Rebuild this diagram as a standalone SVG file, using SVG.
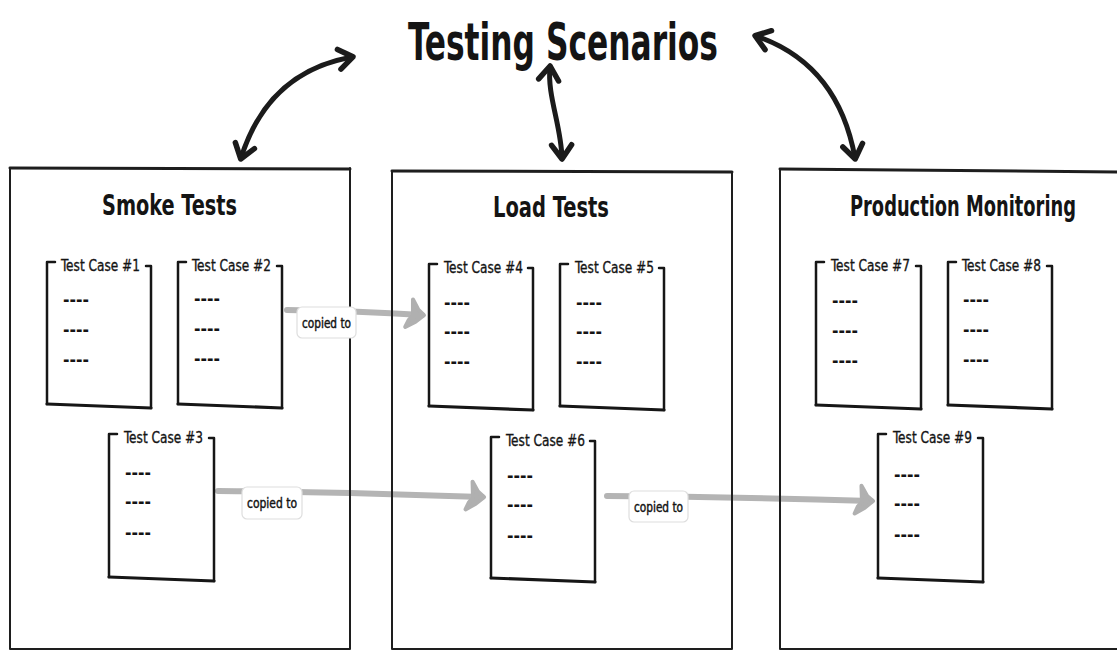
<svg xmlns="http://www.w3.org/2000/svg" width="1117" height="651" viewBox="0 0 1117 651">
  <style>
    .hand { font-family: "DejaVu Sans Condensed", "DejaVu Sans", sans-serif; fill: #141414; }
    .title { font-size: 52px; font-weight: bold; }
    .ptitle { font-size: 29px; font-weight: bold; }
    .tc { font-size: 16.5px; stroke: #141414; stroke-width: 0.35; }
    .dash { font-size: 17px; font-weight: bold; }
    .lbl { font-size: 14.5px; stroke: #141414; stroke-width: 0.45; }
    .frame { fill: none; stroke: #1e1e1e; stroke-width: 2; stroke-linecap: round; stroke-linejoin: round; }
    .frame-top { fill: none; stroke: #1e1e1e; stroke-width: 3; stroke-linecap: round; }
    .box { fill: none; stroke: #161616; stroke-width: 2.5; stroke-linecap: round; stroke-linejoin: round; }
    .box-base { fill: none; stroke: #161616; stroke-width: 3.2; stroke-linecap: round; }
    .link { fill: none; stroke: #1b1b1b; stroke-width: 5; stroke-linecap: round; }
    .copy { fill: none; stroke: #b4b4b4; stroke-width: 6; stroke-linecap: round; }
    .tag { fill: #ffffff; stroke: #dedede; stroke-width: 1.2; }
  </style>
  <defs>
    <marker id="head-black" viewBox="-20 -16 30 32" refX="0" refY="0" markerWidth="30" markerHeight="32" markerUnits="userSpaceOnUse" orient="auto-start-reverse">
      <path d="M -13 -10 L 1 0 L -13 10" fill="none" stroke="#1b1b1b" stroke-width="5.5" stroke-linecap="round" stroke-linejoin="round"/>
    </marker>
    <marker id="head-grey" viewBox="-24 -22 34 44" refX="0" refY="0" markerWidth="34" markerHeight="44" markerUnits="userSpaceOnUse" orient="auto">
      <path d="M -10 -15 L -4 -5 L 2 0 L -6 7 L -16 13 L -13 6 L -9 1 Z" fill="#b0b0b0" stroke="#b0b0b0" stroke-width="4" stroke-linejoin="round"/>
    </marker>
  </defs>

  <rect width="1117" height="651" fill="#ffffff"/>

  <!-- heading -->
  <g id="heading">
    <text class="hand title" x="408" y="60" textLength="310" lengthAdjust="spacingAndGlyphs">Testing Scenarios</text>
  </g>

  <!-- connectors: heading links and copy paths (drawn beneath the frames) -->
  <g id="connectors">
    <path class="link" d="M 352 57 Q 268 72 241 158" marker-start="url(#head-black)" marker-end="url(#head-black)"/>
    <path class="link" d="M 550 67 C 547 95 561 125 562 158" marker-start="url(#head-black)" marker-end="url(#head-black)"/>
    <path class="link" d="M 756 36 Q 838 64 855 158" marker-start="url(#head-black)" marker-end="url(#head-black)"/>
    <path class="copy" d="M 287 310 Q 360 311 422 315" marker-end="url(#head-grey)"/>
    <path class="copy" d="M 218 491 Q 350 492 482 497" marker-end="url(#head-grey)"/>
    <path class="copy" d="M 607 496 Q 740 497 871 501" marker-end="url(#head-grey)"/>
  </g>

  <!-- Smoke Tests -->
  <g id="smoke-tests">
    <path class="frame" d="M 10 168 L 10 649 L 350 649 L 350 168"/>
    <path class="frame-top" d="M 10 168 L 350 169"/>
    <text class="hand ptitle" x="102" y="215" textLength="135" lengthAdjust="spacingAndGlyphs">Smoke Tests</text>

    <g id="test-case-1">
      <path class="box" d="M 55 262 L 47 262 L 47 404"/>
      <path class="box" d="M 146 266 L 151 266 L 151 408"/>
      <path class="box-base" d="M 47 404 L 151 408"/>
      <text class="hand tc" x="61" y="271" textLength="79" lengthAdjust="spacingAndGlyphs">Test Case #1</text>
      <text class="hand dash" x="63" y="306" textLength="26" lengthAdjust="spacingAndGlyphs">----</text>
      <text class="hand dash" x="63" y="336" textLength="26" lengthAdjust="spacingAndGlyphs">----</text>
      <text class="hand dash" x="63" y="366" textLength="26" lengthAdjust="spacingAndGlyphs">----</text>
    </g>

    <g id="test-case-2">
      <path class="box" d="M 186 262 L 178 262 L 178 404"/>
      <path class="box" d="M 277 266 L 282 266 L 282 408"/>
      <path class="box-base" d="M 178 404 L 282 408"/>
      <text class="hand tc" x="192" y="271" textLength="79" lengthAdjust="spacingAndGlyphs">Test Case #2</text>
      <text class="hand dash" x="194" y="305" textLength="26" lengthAdjust="spacingAndGlyphs">----</text>
      <text class="hand dash" x="194" y="335" textLength="26" lengthAdjust="spacingAndGlyphs">----</text>
      <text class="hand dash" x="194" y="365" textLength="26" lengthAdjust="spacingAndGlyphs">----</text>
    </g>

    <g id="test-case-3">
      <path class="box" d="M 117 434 L 109 434 L 109 577"/>
      <path class="box" d="M 209 438 L 214 438 L 214 581"/>
      <path class="box-base" d="M 109 577 L 214 581"/>
      <text class="hand tc" x="124" y="443" textLength="79" lengthAdjust="spacingAndGlyphs">Test Case #3</text>
      <text class="hand dash" x="125" y="479" textLength="26" lengthAdjust="spacingAndGlyphs">----</text>
      <text class="hand dash" x="125" y="508" textLength="26" lengthAdjust="spacingAndGlyphs">----</text>
      <text class="hand dash" x="125" y="539" textLength="26" lengthAdjust="spacingAndGlyphs">----</text>
    </g>
  </g>

  <!-- Load Tests -->
  <g id="load-tests">
    <path class="frame" d="M 392 171 L 392 649 L 732 649 L 732 172"/>
    <path class="frame-top" d="M 392 171 L 732 172"/>
    <text class="hand ptitle" x="493" y="217" textLength="116" lengthAdjust="spacingAndGlyphs">Load Tests</text>

    <g id="test-case-4">
      <path class="box" d="M 437 264 L 429 264 L 429 406"/>
      <path class="box" d="M 528 268 L 533 268 L 533 410"/>
      <path class="box-base" d="M 429 406 L 533 410"/>
      <text class="hand tc" x="444" y="273" textLength="79" lengthAdjust="spacingAndGlyphs">Test Case #4</text>
      <text class="hand dash" x="444" y="309" textLength="26" lengthAdjust="spacingAndGlyphs">----</text>
      <text class="hand dash" x="444" y="338" textLength="26" lengthAdjust="spacingAndGlyphs">----</text>
      <text class="hand dash" x="444" y="368" textLength="26" lengthAdjust="spacingAndGlyphs">----</text>
    </g>

    <g id="test-case-5">
      <path class="box" d="M 568 264 L 560 264 L 560 406"/>
      <path class="box" d="M 659 268 L 664 268 L 664 410"/>
      <path class="box-base" d="M 560 406 L 664 410"/>
      <text class="hand tc" x="575" y="273" textLength="79" lengthAdjust="spacingAndGlyphs">Test Case #5</text>
      <text class="hand dash" x="576" y="309" textLength="26" lengthAdjust="spacingAndGlyphs">----</text>
      <text class="hand dash" x="576" y="338" textLength="26" lengthAdjust="spacingAndGlyphs">----</text>
      <text class="hand dash" x="576" y="368" textLength="26" lengthAdjust="spacingAndGlyphs">----</text>
    </g>

    <g id="test-case-6">
      <path class="box" d="M 499 437 L 491 437 L 491 578"/>
      <path class="box" d="M 590 441 L 595 441 L 595 582"/>
      <path class="box-base" d="M 491 578 L 595 582"/>
      <text class="hand tc" x="506" y="446" textLength="79" lengthAdjust="spacingAndGlyphs">Test Case #6</text>
      <text class="hand dash" x="507" y="482" textLength="26" lengthAdjust="spacingAndGlyphs">----</text>
      <text class="hand dash" x="507" y="511" textLength="26" lengthAdjust="spacingAndGlyphs">----</text>
      <text class="hand dash" x="507" y="542" textLength="26" lengthAdjust="spacingAndGlyphs">----</text>
    </g>
  </g>

  <!-- Production Monitoring -->
  <g id="production-monitoring">
    <path class="frame" d="M 780 169 L 780 649 L 1117 649"/>
    <path class="frame-top" d="M 780 169 L 1117 172"/>
    <text class="hand ptitle" x="850" y="216" textLength="226" lengthAdjust="spacingAndGlyphs">Production Monitoring</text>

    <g id="test-case-7">
      <path class="box" d="M 824 262 L 816 262 L 816 405"/>
      <path class="box" d="M 916 266 L 921 266 L 921 409"/>
      <path class="box-base" d="M 816 405 L 921 409"/>
      <text class="hand tc" x="831" y="271" textLength="79" lengthAdjust="spacingAndGlyphs">Test Case #7</text>
      <text class="hand dash" x="832" y="307" textLength="26" lengthAdjust="spacingAndGlyphs">----</text>
      <text class="hand dash" x="832" y="337" textLength="26" lengthAdjust="spacingAndGlyphs">----</text>
      <text class="hand dash" x="832" y="367" textLength="26" lengthAdjust="spacingAndGlyphs">----</text>
    </g>

    <g id="test-case-8">
      <path class="box" d="M 956 262 L 948 262 L 948 405"/>
      <path class="box" d="M 1047 266 L 1052 266 L 1052 409"/>
      <path class="box-base" d="M 948 405 L 1052 409"/>
      <text class="hand tc" x="962" y="271" textLength="79" lengthAdjust="spacingAndGlyphs">Test Case #8</text>
      <text class="hand dash" x="963" y="306" textLength="26" lengthAdjust="spacingAndGlyphs">----</text>
      <text class="hand dash" x="963" y="336" textLength="26" lengthAdjust="spacingAndGlyphs">----</text>
      <text class="hand dash" x="963" y="366" textLength="26" lengthAdjust="spacingAndGlyphs">----</text>
    </g>

    <g id="test-case-9">
      <path class="box" d="M 886 434 L 878 434 L 878 578"/>
      <path class="box" d="M 978 438 L 983 438 L 983 582"/>
      <path class="box-base" d="M 878 578 L 983 582"/>
      <text class="hand tc" x="893" y="443" textLength="79" lengthAdjust="spacingAndGlyphs">Test Case #9</text>
      <text class="hand dash" x="894" y="481" textLength="26" lengthAdjust="spacingAndGlyphs">----</text>
      <text class="hand dash" x="894" y="510" textLength="26" lengthAdjust="spacingAndGlyphs">----</text>
      <text class="hand dash" x="894" y="541" textLength="26" lengthAdjust="spacingAndGlyphs">----</text>
    </g>
  </g>

  <!-- labels on the copy paths, drawn above the frames -->
  <g id="connector-labels">
    <rect class="tag" x="297" y="307" width="59" height="31" rx="5"/>
    <text class="hand lbl" x="326.5" y="328" text-anchor="middle" textLength="49" lengthAdjust="spacingAndGlyphs">copied to</text>
    <rect class="tag" x="242" y="487" width="60" height="32" rx="5"/>
    <text class="hand lbl" x="272" y="508" text-anchor="middle" textLength="50" lengthAdjust="spacingAndGlyphs">copied to</text>
    <rect class="tag" x="629" y="491" width="59" height="31" rx="5"/>
    <text class="hand lbl" x="658.5" y="512" text-anchor="middle" textLength="49" lengthAdjust="spacingAndGlyphs">copied to</text>
  </g>
</svg>
